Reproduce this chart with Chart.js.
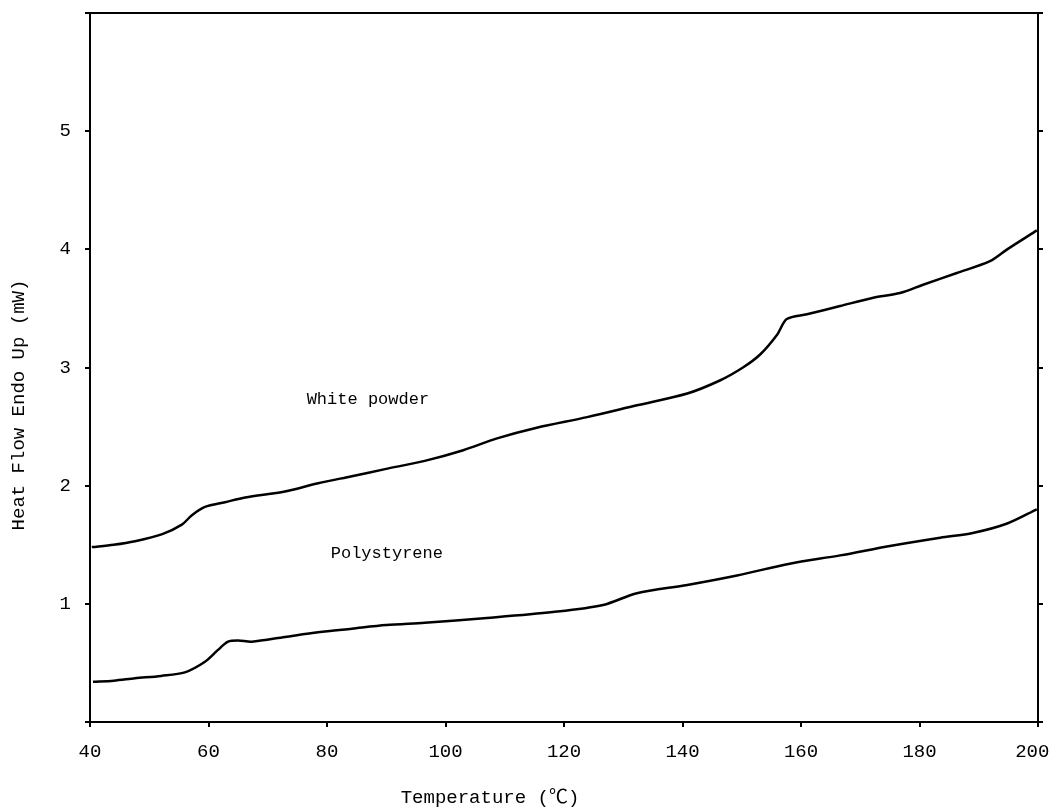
<!DOCTYPE html>
<html>
<head>
<meta charset="utf-8">
<script src="https://cdn.jsdelivr.net/npm/chart.js@4"></script>
<style>
html,body{margin:0;padding:0;background:#fff;}
canvas{display:block;}
</style>
</head>
<body>
<canvas id="c" width="1052" height="811"></canvas>
<script>
// Data
const whiteTemp = [40.3,44,47.6,52.2,55.5,57.2,59.4,62.8,66.2,72.9,78.5,84.2,89.8,96.5,103,108.7,115.4,123.9,132.3,140.8,146.3,150.2,153.1,156,157.6,161,166.6,172.2,176.7,180.6,186.3,191.9,194.8,199.8];
const whitePowder = [1.48,1.50,1.53,1.59,1.67,1.75,1.82,1.86,1.90,1.95,2.02,2.08,2.14,2.21,2.30,2.40,2.49,2.58,2.68,2.78,2.89,3.00,3.11,3.28,3.41,3.45,3.52,3.59,3.63,3.70,3.80,3.90,4.00,4.16];
const psTemp = [40.5,44,47.6,52,56,59.4,61.6,63.3,65,67.3,72.9,78.5,84.2,90,96.5,107,118.1,126.6,132.3,140.8,149.2,158.1,166.6,175,183.5,189,194.8,199.8];
const polystyrene = [0.34,0.35,0.37,0.39,0.42,0.51,0.61,0.68,0.69,0.68,0.72,0.76,0.79,0.82,0.84,0.88,0.93,0.99,1.09,1.16,1.24,1.34,1.41,1.49,1.56,1.60,1.68,1.80];
const labelTexts = ['White powder','Polystyrene'];
const labelTemp = [86.9, 90.1];
const labelValue = [2.73, 1.43];
const xTitle = 'Temperature (\u2103)';
const yTitle = 'Heat Flow Endo Up (mW)';

const FONT = '"Liberation Mono","Noto Sans CJK SC",monospace';

function pts(xs, ys){ return xs.map((x,i)=>({x:x,y:ys[i]})); }
function fitter(prop, size){
  return function(s){
    s[prop] = size;
    s.paddingLeft = 0; s.paddingRight = 0; s.paddingTop = 0; s.paddingBottom = 0;
  };
}

const textPlugin = {
  id:'texts',
  afterDraw(chart){
    const ctx = chart.ctx, xs = chart.scales.x, ys = chart.scales.y;
    ctx.save();
    ctx.fillStyle = '#000';
    ctx.font = '17px ' + FONT;
    ctx.textAlign = 'center';
    ctx.textBaseline = 'middle';
    labelTexts.forEach((t,i)=>{
      ctx.fillText(t, xs.getPixelForValue(labelTemp[i]), ys.getPixelForValue(labelValue[i]));
    });
    ctx.font = '19px ' + FONT;
    ctx.fillText(xTitle, 490, 798);
    ctx.translate(19, 405);
    ctx.rotate(-Math.PI/2);
    ctx.fillText(yTitle, 0, 0);
    ctx.restore();
  }
};

const tickFont = {family: FONT, size: 19};

new Chart(document.getElementById('c'), {
  type:'line',
  data:{
    datasets:[
      {label:'White powder', data:pts(whiteTemp, whitePowder), borderColor:'#000', borderWidth:2.5, pointRadius:0, tension:0.3, fill:false},
      {label:'Polystyrene', data:pts(psTemp, polystyrene), borderColor:'#000', borderWidth:2.5, pointRadius:0, tension:0.3, fill:false}
    ]
  },
  options:{
    responsive:false,
    animation:false,
    layout:{padding:0, autoPadding:false},
    plugins:{legend:{display:false}, tooltip:{enabled:false}},
    scales:{
      x:{
        type:'linear', position:'bottom', min:40, max:200,
        afterFit: fitter('height', 89),
        ticks:{stepSize:20, color:'#000', font:tickFont, padding:14, maxRotation:0,
          callback:(v)=> v === 200 ? '200 ' : String(v)},
        grid:{drawOnChartArea:false, drawTicks:true, tickLength:5, color:'#000', lineWidth:2},
        border:{display:true, color:'#000', width:2}
      },
      x2:{
        type:'linear', position:'top', min:40, max:200,
        afterFit: fitter('height', 13),
        ticks:{display:false},
        grid:{display:false},
        border:{display:true, color:'#000', width:2}
      },
      y:{
        type:'linear', position:'left', min:0, max:6,
        afterFit: fitter('width', 90),
        ticks:{stepSize:1, color:'#000', font:tickFont, padding:14,
          callback:(v)=> (v>=1 && v<=5) ? String(v) : ''},
        grid:{drawOnChartArea:false, drawTicks:true, tickLength:5, color:'#000', lineWidth:2},
        border:{display:true, color:'#000', width:2}
      },
      y2:{
        type:'linear', position:'right', min:0, max:6,
        afterFit: fitter('width', 14),
        ticks:{stepSize:1, display:true, color:'rgba(0,0,0,0)', font:{size:1}, padding:0, callback:()=>''},
        grid:{drawOnChartArea:false, drawTicks:true, tickLength:5, color:'#000', lineWidth:2},
        border:{display:true, color:'#000', width:2}
      }
    }
  },
  plugins:[textPlugin]
});
</script>
</body>
</html>
